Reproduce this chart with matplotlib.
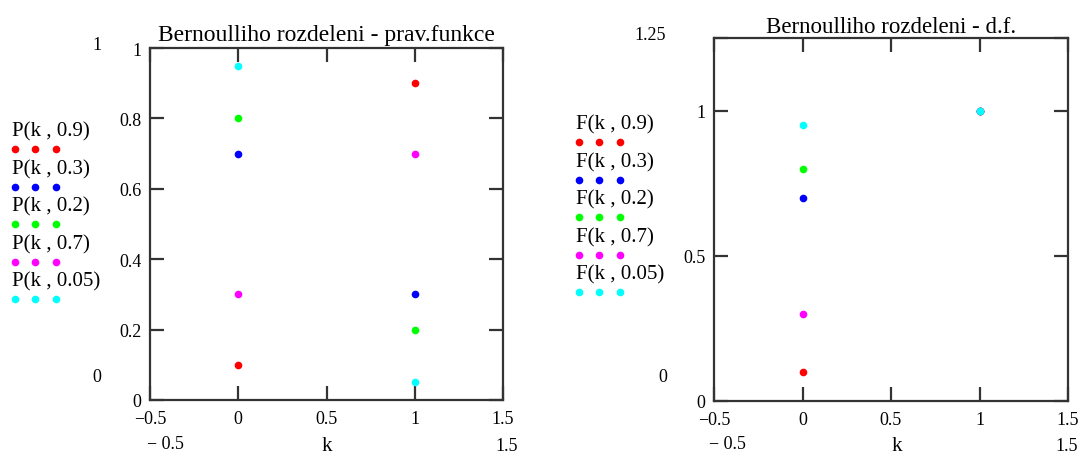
import matplotlib
matplotlib.use("Agg")
import matplotlib.pyplot as plt

plt.rcParams['font.family'] = ['Liberation Serif', 'DejaVu Serif']

k = [0, 1]
p_values = [0.9, 0.3, 0.2, 0.7, 0.05]
colors = ['#ff0000', '#0000ff', '#00ff00', '#ff00ff', '#00ffff']
p_labels = ['0.9', '0.3', '0.2', '0.7', '0.05']

# pravdepodobnostni funkce P(k, p) a distribucni funkce F(k, p)
P_vals = [[0.1, 0.9], [0.7, 0.3], [0.8, 0.2], [0.3, 0.7], [0.95, 0.05]]
F_vals = [[0.1, 1.0], [0.7, 1.0], [0.8, 1.0], [0.3, 1.0], [0.95, 1.0]]

W, H = 1085, 456
fig = plt.figure(figsize=(W / 100, H / 100), dpi=100)

edge = '#333333'
ms = 5.5


def px(x, y):
    return x / W, 1 - y / H


def style_axes(ax, yticks, ylabels):
    ax.set_xlim(-0.5, 1.5)
    ax.set_xticks([-0.5, 0, 0.5, 1, 1.5])
    ax.set_xticklabels(['\u22120.5', '0', '0.5', '1', '1.5'])
    ax.set_yticks(yticks)
    ax.set_yticklabels(ylabels)
    ax.tick_params(direction='in', length=10, width=1.6, color=edge,
                   top=True, right=True, labelsize=13, pad=6)
    ax.tick_params(axis='x', pad=7)
    for s in ax.spines.values():
        s.set_linewidth(1.6)
        s.set_color(edge)


# levy graf
ax1 = fig.add_axes([150 / W, 1 - 401 / H, 353 / W, 352 / H])
for vals, c in zip(P_vals, colors):
    ax1.plot(k, vals, 'o', color=c, markersize=ms, markeredgewidth=0, linestyle='none')
ax1.set_ylim(0, 1)
style_axes(ax1, [0, 0.2, 0.4, 0.6, 0.8, 1], ['0', '0.2', '0.4', '0.6', '0.8', '1'])
ax1.set_title('Bernoulliho rozdeleni - prav.funkce', fontsize=17, pad=6)

# pravy graf
ax2 = fig.add_axes([714 / W, 1 - 402 / H, 354 / W, 363 / H])
for vals, c in zip(F_vals, colors):
    ax2.plot(k, vals, 'o', color=c, markersize=ms, markeredgewidth=0, linestyle='none')
ax2.set_ylim(0, 1.25)
style_axes(ax2, [0, 0.5, 1, 1.25], ['0', '0.5', '1', ''])
ax2.set_title('Bernoulliho rozdeleni - d.f.', fontsize=16.5, pad=4)

# legendy vlevo od grafu
for name, x0, dots_x, y0 in [('P', 12, [15, 35, 56], 150), ('F', 576, [579, 599, 620], 143)]:
    for i, (lab, c) in enumerate(zip(p_labels, colors)):
        yd = y0 + 37.5 * i
        tx, ty = px(x0, yd - 18)
        fig.text(tx, ty, '%s(k , %s)' % (name, lab), fontsize=15,
                 ha='left', va='center')
        for xd in dots_x:
            fig.lines.append(plt.Line2D([xd / W], [1 - yd / H], marker='o',
                                        color=c, markersize=ms, markeredgewidth=0,
                                        transform=fig.transFigure))

# popisky mezi os (Mathcad styl)
extra = [('1', 97, 45), ('0', 97, 378), ('\u2212 0.5', 165, 445), ('k', 327, 447),
         ('1.5', 507, 447),
         ('1.25', 650, 35), ('0', 663, 378), ('\u2212 0.5', 727, 445), ('k', 897, 447),
         ('1.5', 1067, 447)]
for t, x, y in extra:
    tx, ty = px(x, y)
    fig.text(tx, ty, t, fontsize=15 if t == 'k' else 13, ha='center', va='center')

fig.savefig('out.png', dpi=100)
